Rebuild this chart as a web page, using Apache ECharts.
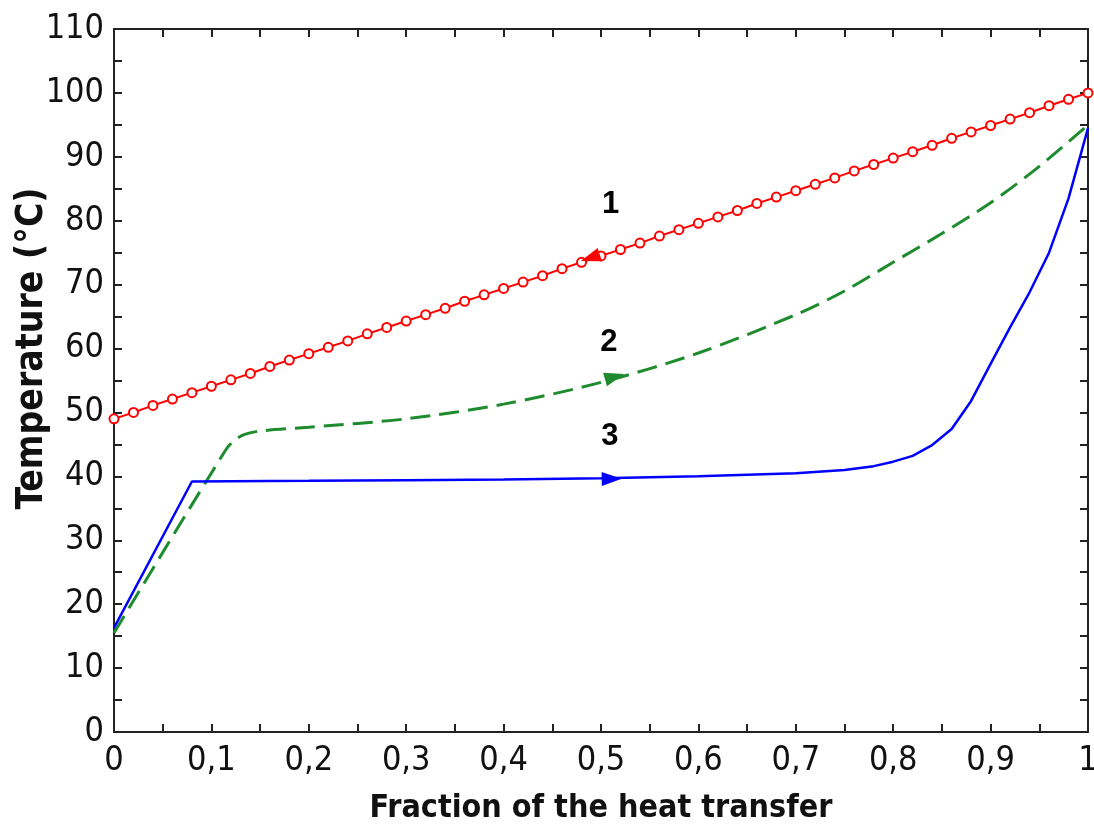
<!DOCTYPE html>
<html>
<head>
<meta charset="utf-8">
<script src="https://cdn.jsdelivr.net/npm/echarts@6/dist/echarts.min.js"></script>
<style>html,body{margin:0;padding:0;background:#fff}#c{width:1094px;height:832px}</style>
</head>
<body>
<div id="c"></div>
<script>
// ---- data ----
const xTickLabels = ['0','0,1','0,2','0,3','0,4','0,5','0,6','0,7','0,8','0,9','1'];
const yTickLabels = ['0','10','20','30','40','50','60','70','80','90','100','110'];

const redX = [0,0.02,0.04,0.06,0.08,0.10,0.12,0.14,0.16,0.18,0.20,0.22,0.24,0.26,0.28,0.30,0.32,0.34,0.36,0.38,0.40,0.42,0.44,0.46,0.48,0.50,0.52,0.54,0.56,0.58,0.60,0.62,0.64,0.66,0.68,0.70,0.72,0.74,0.76,0.78,0.80,0.82,0.84,0.86,0.88,0.90,0.92,0.94,0.96,0.98,1.00];
const redY = [49.0,50.0,51.1,52.1,53.1,54.1,55.1,56.1,57.2,58.2,59.2,60.2,61.2,62.3,63.3,64.3,65.3,66.3,67.4,68.4,69.4,70.4,71.4,72.5,73.5,74.5,75.5,76.5,77.6,78.6,79.6,80.6,81.6,82.7,83.7,84.7,85.7,86.7,87.8,88.8,89.8,90.8,91.8,92.9,93.9,94.9,95.9,96.9,98.0,99.0,100.0];

const greenX = [0,0.115,0.125,0.135,0.15,0.2,0.3,0.4,0.5,0.6,0.7,0.75,0.8,0.85,0.9,0.95,1.0];
const greenY = [15.5,44.2,45.8,46.6,47.1,47.7,49.0,51.3,54.7,59.3,65.3,69.0,73.5,78.0,82.8,88.5,95.0];

const blueX = [0,0.08,0.2,0.3,0.4,0.5,0.6,0.7,0.75,0.78,0.8,0.82,0.84,0.86,0.88,0.9,0.92,0.94,0.96,0.98,1.0];
const blueY = [16.3,39.2,39.3,39.4,39.5,39.7,40.0,40.5,41.0,41.6,42.3,43.2,44.9,47.4,51.8,57.6,63.3,68.8,75.0,83.5,94.5];

// direction arrows on each curve: [x, y]
const arrowPts = [[0.489,74.2],[0.514,55.6],[0.511,39.6]];
const arrowRot = [108, -74, -89];
const arrowColors = ['#ff0000','#1e8c2e','#0000ff'];

// curve labels
const curveLabels = ['1','2','3'];
const curveLabelPts = [[0.51,82.5],[0.508,60.9],[0.509,46.2]];

// ---- chart ----
const tickFont = '"Liberation Sans Narrow","DejaVu Sans Condensed","Roboto Condensed","Liberation Sans",sans-serif';
const titleFont = '"Liberation Sans Narrow","DejaVu Sans Condensed","Liberation Sans",sans-serif';
const axisCol = '#222';

function baseX(pos, showLabels) {
  return {
    type: 'value', position: pos, min: 0, max: 1, interval: 0.1,
    axisLine: {show: true, onZero: false, lineStyle: {color: axisCol, width: 2}},
    axisTick: {show: true, inside: true, length: 8, lineStyle: {color: axisCol, width: 2}},
    minorTick: {show: true, splitNumber: 2, length: 8, lineStyle: {color: axisCol, width: 2}},
    splitLine: {show: false},
    axisLabel: showLabels ? {
      show: true, margin: 12, color: '#111', fontFamily: tickFont, fontSize: 34,
      formatter: v => xTickLabels[Math.round(v * 10)]
    } : {show: false}
  };
}
function baseY(pos, showLabels) {
  return {
    type: 'value', position: pos, min: 0, max: 110, interval: 10,
    axisLine: {show: true, onZero: false, lineStyle: {color: axisCol, width: 2}},
    axisTick: {show: true, inside: true, length: 8, lineStyle: {color: axisCol, width: 2}},
    minorTick: {show: true, splitNumber: 2, length: 8, lineStyle: {color: axisCol, width: 2}},
    splitLine: {show: false},
    axisLabel: showLabels ? {
      show: true, margin: 10, color: '#111', fontFamily: tickFont, fontSize: 34,
      formatter: v => yTickLabels[Math.round(v / 10)]
    } : {show: false}
  };
}

const xMain = baseX('bottom', true);
xMain.name = 'Fraction of the heat transfer';
xMain.nameLocation = 'middle';
xMain.nameGap = 61;
xMain.nameMoveOverlap = false;
xMain.nameTextStyle = {fontFamily: titleFont, fontWeight: 'bold', fontSize: 32, color: '#111'};
const yMain = baseY('left', true);
yMain.name = 'Temperature (°C)';
yMain.nameLocation = 'middle';
yMain.nameGap = 63;
yMain.nameMoveOverlap = false;
yMain.nameTextStyle = {fontFamily: titleFont, fontWeight: 'bold', fontSize: 37, color: '#111', padding: [0, 0, 0, 64]};

const chart = echarts.init(document.getElementById('c'), null, {renderer: 'canvas'});
chart.setOption({
  animation: false,
  backgroundColor: '#fff',
  grid: {left: 114, right: 6, top: 29, bottom: 100, containLabel: false, outerBoundsMode: 'none'},
  xAxis: [xMain, baseX('top', false)],
  yAxis: [yMain, baseY('right', false)],
  series: [
    {
      type: 'line', xAxisIndex: 0, yAxisIndex: 0,
      data: redX.map((x, i) => [x, redY[i]]),
      symbol: 'circle', symbolSize: 9, showSymbol: true,
      lineStyle: {color: '#ff0000', width: 2},
      itemStyle: {color: '#ffffff', borderColor: '#ff0000', borderWidth: 2},
      z: 3
    },
    {
      type: 'line', data: greenX.map((x, i) => [x, greenY[i]]),
      symbol: 'none', smooth: 0.3,
      lineStyle: {color: '#1e8c2e', width: 3, type: [20, 9]},
      z: 2
    },
    {
      type: 'line', data: blueX.map((x, i) => [x, blueY[i]]),
      symbol: 'none', smooth: false,
      lineStyle: {color: '#0000ff', width: 2.5},
      z: 2
    },
    {
      type: 'scatter',
      data: arrowPts.map((p, i) => ({value: p, symbolRotate: arrowRot[i], itemStyle: {color: arrowColors[i], opacity: 1}})),
      symbol: 'triangle', symbolSize: [14, 20],
      itemStyle: {opacity: 1},
      z: 5
    },
    {
      type: 'scatter',
      data: curveLabelPts.map((p, i) => ({value: p, name: curveLabels[i]})),
      symbolSize: 0,
      itemStyle: {opacity: 1},
      label: {show: true, position: 'inside', formatter: p => p.name,
        fontFamily: '"Liberation Sans","Arial",sans-serif', fontWeight: 'bold', fontSize: 31, color: '#000', opacity: 1},
      z: 6
    }
  ]
});
</script>
</body>
</html>
